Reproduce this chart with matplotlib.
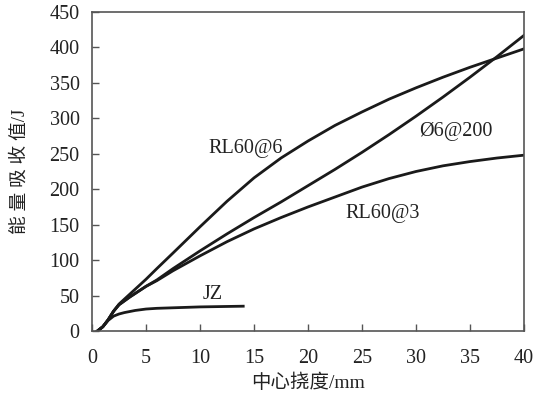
import matplotlib
matplotlib.use("Agg")
import matplotlib.pyplot as plt

# deflection (mm) vs absorbed energy (J)
x_rl6 = [0.5, 1, 1.5, 2, 2.5, 3.5, 5, 6, 7.5, 10, 12.5, 15, 17.5, 20, 22.5, 25,
         27.5, 30, 32.5, 35, 37.5, 40]
y_rl6 = [0, 6, 16, 28, 38, 52, 73, 88, 110, 147, 183, 216, 244, 268, 290, 309,
         327, 343, 358, 372, 385, 398]

x_phi = [0.5, 1, 1.5, 2, 2.5, 3.5, 5, 6, 7.5, 10, 12.5, 15, 17.5, 20, 22.5, 25,
         27.5, 30, 32.5, 35, 37.5, 40]
y_phi = [0, 6, 16, 28, 37, 48, 63, 72, 88, 113, 137, 160, 182, 205, 228, 252,
         277, 303, 330, 358, 387, 417]

x_rl3 = [0.5, 1, 1.5, 2, 2.5, 3.5, 5, 6, 7.5, 10, 12.5, 15, 17.5, 20, 22.5, 25,
         27.5, 30, 32.5, 35, 37.5, 40]
y_rl3 = [0, 6, 16, 28, 37, 48, 63, 71, 85, 106, 126, 144, 160, 175, 189, 203,
         215, 225, 233, 239, 244, 248]

x_jz = [0.5, 1, 1.5, 2, 2.5, 3, 4, 5, 6, 8, 10, 12, 14]
y_jz = [0, 6, 15, 21, 24, 26, 29, 31, 32, 33, 34, 34.5, 35]

series = [
    (x_rl6, y_rl6, "RL60@6", 14.2, 258),
    (x_phi, y_phi, "Ø6@200", 33.7, 281),
    (x_rl3, y_rl3, "RL60@3", 26.9, 166),
    (x_jz, y_jz, "JZ", 11.2, 51),
]

x_ticks = [0, 5, 10, 15, 20, 25, 30, 35, 40]
y_ticks = [0, 50, 100, 150, 200, 250, 300, 350, 400, 450]

serif = ["Liberation Serif", "Noto Sans CJK SC"]
line_color = "#1a1a1a"
text_color = "#222222"

fig = plt.figure(figsize=(5.52, 3.99), dpi=100)
ax = fig.add_axes([0.1667, 0.1704, 0.7826, 0.7996])

for xs, ys, name, lx, ly in series:
    ax.plot(xs, ys, color=line_color, lw=2.0, solid_joinstyle="round")
    ax.text(lx, ly, name, ha="center", va="center", fontsize=14.5,
            family=serif, color=text_color)

ax.set_xlim(0, 40)
ax.set_ylim(0, 450)
ax.set_xticks(x_ticks)
ax.set_yticks(y_ticks)
ax.set_xticklabels([str(v) for v in x_ticks], family=serif, fontsize=14.5, color=text_color)
ax.set_yticklabels([str(v) for v in y_ticks], family=serif, fontsize=14.5, color=text_color)
ax.tick_params(direction="in", length=5, width=1.0, color="#555555")
ax.tick_params(axis="y", pad=9)
ax.tick_params(axis="x", pad=13)

for side in ax.spines.values():
    side.set_color("#555555")
    side.set_linewidth(1.2)

ax.set_xlabel("中心挠度/mm", family=serif, fontsize=14, color=text_color, labelpad=4)
ax.set_ylabel("能 量 吸 收 值/J", family=serif, fontsize=13.5, color=text_color, labelpad=15)

fig.savefig("out.png", dpi=100)
